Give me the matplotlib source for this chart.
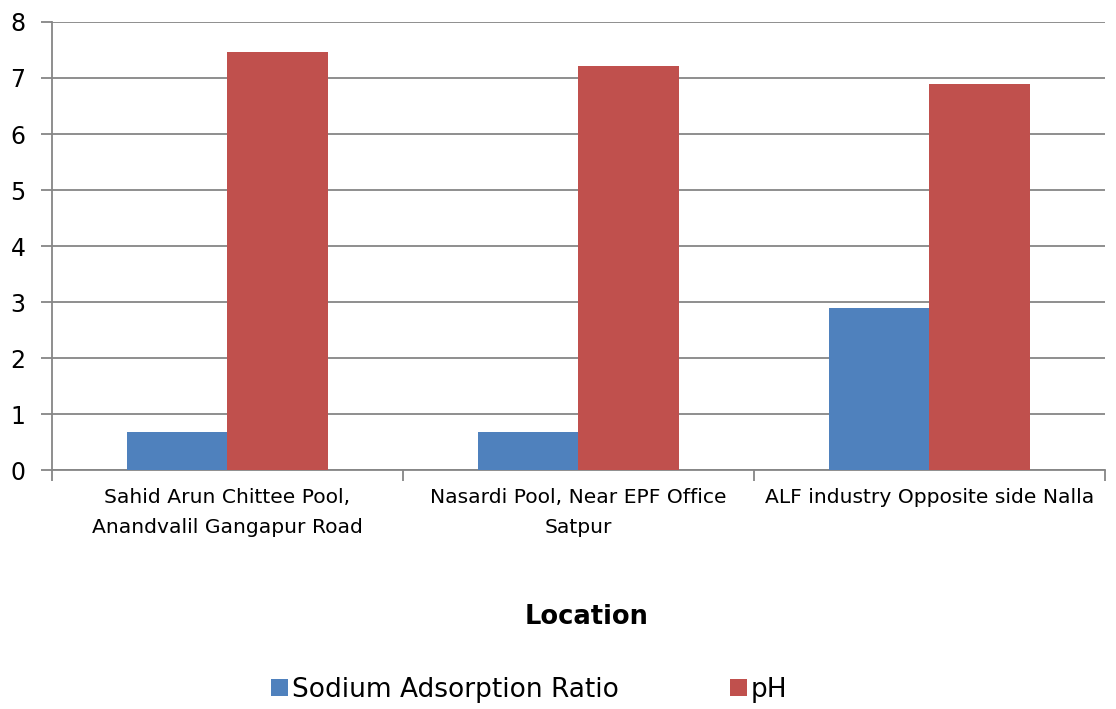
import matplotlib.pyplot as plt
import numpy as np

# water quality per sampling location
locations = ['Sahid Arun Chittee Pool,\nAnandvalil Gangapur Road',
             'Nasardi Pool, Near EPF Office\nSatpur',
             'ALF industry Opposite side Nalla']
sar = [0.68, 0.68, 2.89]
ph = [7.46, 7.21, 6.89]

blue = '#4F81BD'
red = '#C0504D'
grid_col = '#868686'

plt.rcParams['font.family'] = 'DejaVu Sans'

fig = plt.figure(figsize=(11.16, 7.09), dpi=100)
ax = fig.add_axes([0.0466, 0.337, 0.9434, 0.632])

x = np.arange(len(locations))
w = 0.286
ax.bar(x - w / 2, sar, w, color=blue, label='Sodium Adsorption Ratio', zorder=3)
ax.bar(x + w / 2, ph, w, color=red, label='pH', zorder=3)

ax.set_xlim(-0.5, len(locations) - 0.5)
ax.set_ylim(0, 8)
ax.set_yticks(range(0, 9))
ax.yaxis.grid(True, color=grid_col, linewidth=1.3, zorder=0)

for s in ['top', 'right']:
    ax.spines[s].set_visible(False)
for s in ['left', 'bottom']:
    ax.spines[s].set_color(grid_col)
    ax.spines[s].set_linewidth(1.3)

ax.tick_params(axis='y', labelsize=17, length=8, color=grid_col, width=1.3, pad=11)
ax.set_xticks(x)
ax.set_xticklabels(locations, fontsize=14.6, linespacing=1.7)
ax.tick_params(axis='x', which='major', length=0, pad=13)
ax.set_xticks(np.arange(-0.5, len(locations)), minor=True)
ax.tick_params(axis='x', which='minor', length=8, color=grid_col, width=1.3)

ax.set_xlabel('Location', fontsize=18.5, fontweight='bold', va='center')
ax.xaxis.set_label_coords(0.508, -0.328)

fig.legend(loc='center', bbox_to_anchor=(0.474, 0.027), ncol=2, frameon=False,
           fontsize=19, handlelength=0.65, handleheight=0.65, handletextpad=0.15,
           columnspacing=4.2)

fig.savefig('out.png', dpi=100)
